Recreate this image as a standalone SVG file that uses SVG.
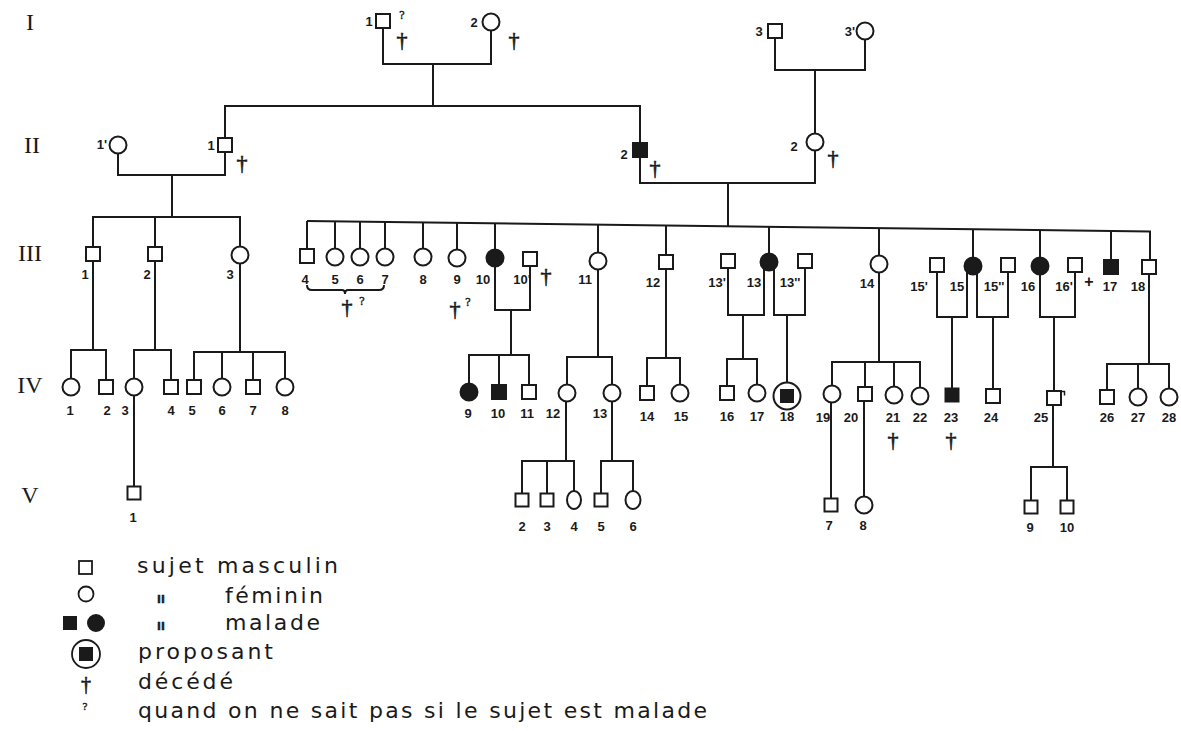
<svg xmlns="http://www.w3.org/2000/svg" width="1181" height="731" viewBox="0 0 1181 731">
<style>
.c{stroke:#1a1a1a;stroke-width:2;fill:none}
.s{fill:#fff;stroke:#1a1a1a;stroke-width:2}
.f{fill:#1a1a1a;stroke:#1a1a1a;stroke-width:2}
.n{font-family:"Liberation Sans",Arial,sans-serif;font-size:13px;font-weight:bold;fill:#1a1a1a;text-anchor:middle}
.g{font-family:"Liberation Serif","Times New Roman",serif;font-size:24px;fill:#1a1a1a;text-anchor:middle}
.d{font-family:"Liberation Serif","Times New Roman",serif;font-size:22px;fill:#1a1a1a;stroke:#1a1a1a;stroke-width:0.6;text-anchor:middle}
.q{font-family:"Liberation Serif","Times New Roman",serif;font-size:12px;fill:#1a1a1a;stroke:#1a1a1a;stroke-width:0.4;text-anchor:middle}
.t{font-family:"DejaVu Sans","Liberation Sans",sans-serif;font-size:22px;fill:#1a1a1a}
.o{font-family:"Liberation Sans",Arial,sans-serif;font-size:14px;font-weight:bold;fill:#1a1a1a;stroke:#1a1a1a;stroke-width:0.5}
</style>
<rect width="1181" height="731" fill="#fff"/>
<g id="generations">
<text class="g" x="30" y="30">I</text>
<text class="g" x="32" y="153">II</text>
<text class="g" x="30" y="261">III</text>
<text class="g" x="30" y="393">IV</text>
<text class="g" x="30" y="503">V</text>
</g>
<g id="connectors" class="c">
<path d="M383 28V64H491V30.5"/><path d="M433 64V106"/>
<path d="M225 138V106H640V143"/>
<path d="M775 38V70H865V39.5"/><path d="M815 70V133.5"/>
<path d="M225 152V175H118V153.5"/><path d="M172 175V217"/>
<path d="M93 247V217H240V246.5"/><path d="M155 217V247"/>
<path d="M640 157V183H815V150.5"/><path d="M728 183V226.2"/>
<path d="M93 261V350"/><path d="M71 378.5V350H106V380"/>
<path d="M155 261V350"/><path d="M134 378.5V350H171V380"/>
<path d="M240 263.5V352"/><path d="M194 380V352H285V378.5"/><path d="M222 352V378.5"/><path d="M253 352V380"/>
<path d="M134 395.5V486.5"/>
<path d="M307 221L1150 231.5V260"/>
<path d="M307 221V249"/><path d="M335 221.4V248.5"/><path d="M360 221.7V248.5"/><path d="M385 222V248.5"/>
<path d="M423 222.4V248.5"/><path d="M457 222.9V249.5"/><path d="M495 223.3V249.5"/><path d="M598 224.6V252.5"/>
<path d="M666 225.5V255"/><path d="M769 226.8V253.5"/><path d="M879 228.1V255.5"/><path d="M973 229.3V257.5"/>
<path d="M1040 230.2V257.5"/><path d="M1111 231V260"/>
<path d="M307 285q0 5 5 5h30q3 0 3 4q0 -4 3 -4h31q5 0 5 -5"/>
<path d="M495 266.5V310H530V266"/><path d="M511 310V355"/><path d="M469 383.5V355H529V385"/><path d="M499 355V385"/>
<path d="M598 269.5V357"/><path d="M567 384.5V357H612V384.5"/>
<path d="M566 401.5V461"/><path d="M522 493.5V461H574V491"/><path d="M547 461V493.5"/>
<path d="M612 401.5V461"/><path d="M601 493.5V461H633V491"/>
<path d="M666 269V358"/><path d="M647 386V358H680V384.5"/>
<path d="M728 268V315H764V269"/><path d="M743 315V359"/><path d="M727 386V359H757V384.5"/>
<path d="M774 268.5V315H805V268"/><path d="M787 315V382.5"/>
<path d="M879 272.5V362"/><path d="M832 385.5V362H920V387.5"/><path d="M865 362V387"/><path d="M894 362V386.5"/>
<path d="M831 402.5V498.5"/><path d="M864 401V496.5"/>
<path d="M937 272V317H967V272"/><path d="M952 317V388.5"/>
<path d="M977 272.5V317H1008V272"/><path d="M993 317V389"/>
<path d="M1040 274.5V317H1075V272"/><path d="M1054 317V391"/>
<path d="M1053 405V467"/><path d="M1031 500.5V467H1067V500.5"/>
<path d="M1149 274V364"/><path d="M1107 390V364H1169V388.5"/><path d="M1138 364V388.5"/>
</g>
<g id="I-1"><rect class="s" x="376" y="14" width="14" height="14"/><text class="n" x="369" y="26">1</text><text class="q" x="402" y="19">?</text><text class="d" x="402" y="47">†</text></g>
<g id="I-2"><circle class="s" cx="491" cy="22" r="8.5"/><text class="n" x="474" y="27">2</text><text class="d" x="514" y="47">†</text></g>
<g id="I-3"><rect class="s" x="768" y="24" width="14" height="14"/><text class="n" x="759" y="36">3</text></g>
<g id="I-3p"><circle class="s" cx="865" cy="31" r="8.5"/><text class="n" x="850" y="36">3'</text></g>
<g id="II-1p"><circle class="s" cx="118" cy="145" r="8.5"/><text class="n" x="102" y="149">1'</text></g>
<g id="II-1"><rect class="s" x="218" y="138" width="14" height="14"/><text class="n" x="211" y="150">1</text><text class="d" x="242" y="170">†</text></g>
<g id="II-2m"><rect class="f" x="633" y="143" width="14" height="14"/><text class="n" x="624" y="159">2</text><text class="d" x="655" y="175">†</text></g>
<g id="II-2f"><circle class="s" cx="815" cy="142" r="8.5"/><text class="n" x="794" y="151">2</text><text class="d" x="833" y="165">†</text></g>
<g id="III-1"><rect class="s" x="86" y="247" width="14" height="14"/><text class="n" x="85" y="279">1</text></g>
<g id="III-2"><rect class="s" x="148" y="247" width="14" height="14"/><text class="n" x="147" y="279">2</text></g>
<g id="III-3"><circle class="s" cx="240" cy="255" r="8.5"/><text class="n" x="230" y="279">3</text></g>
<g id="III-4"><rect class="s" x="300" y="249" width="14" height="14"/><text class="n" x="305" y="284">4</text></g>
<g id="III-5"><circle class="s" cx="335" cy="257" r="8.5"/><text class="n" x="335" y="284">5</text></g>
<g id="III-6"><circle class="s" cx="360" cy="257" r="8.5"/><text class="n" x="360" y="284">6</text></g>
<g id="III-7"><circle class="s" cx="385" cy="257" r="8.5"/><text class="n" x="385" y="284">7</text></g>
<g id="III-4-7-note"><text class="d" x="347" y="314">†</text><text class="q" x="362" y="305">?</text></g>
<g id="III-8"><circle class="s" cx="423" cy="257" r="8.5"/><text class="n" x="423" y="284">8</text></g>
<g id="III-9"><circle class="s" cx="457" cy="258" r="8.5"/><text class="n" x="457" y="284">9</text><text class="d" x="455" y="316">†</text><text class="q" x="468" y="306">?</text></g>
<g id="III-10"><circle class="f" cx="495" cy="258" r="8.5"/><text class="n" x="483" y="284">10</text></g>
<g id="III-10p"><rect class="s" x="523" y="252" width="14" height="14"/><text class="n" x="522" y="284">10'</text><text class="d" x="546" y="283">†</text></g>
<g id="III-11"><circle class="s" cx="598" cy="261" r="8.5"/><text class="n" x="585" y="284">11</text></g>
<g id="III-12"><rect class="s" x="659" y="255" width="14" height="14"/><text class="n" x="653" y="287">12</text></g>
<g id="III-13p"><rect class="s" x="721" y="254" width="14" height="14"/><text class="n" x="717" y="287">13'</text></g>
<g id="III-13"><circle class="f" cx="769" cy="262" r="8.5"/><text class="n" x="754" y="287">13</text></g>
<g id="III-13pp"><rect class="s" x="798" y="254" width="14" height="14"/><text class="n" x="790" y="287">13''</text></g>
<g id="III-14"><circle class="s" cx="879" cy="264" r="8.5"/><text class="n" x="867" y="288">14</text></g>
<g id="III-15p"><rect class="s" x="930" y="258" width="14" height="14"/><text class="n" x="919" y="291">15'</text></g>
<g id="III-15"><circle class="f" cx="973" cy="266" r="8.5"/><text class="n" x="957" y="291">15</text></g>
<g id="III-15pp"><rect class="s" x="1001" y="258" width="14" height="14"/><text class="n" x="994" y="291">15''</text></g>
<g id="III-16"><circle class="f" cx="1040" cy="266" r="8.5"/><text class="n" x="1028" y="291">16</text></g>
<g id="III-16p"><rect class="s" x="1068" y="258" width="14" height="14"/><text class="n" x="1064" y="291">16'</text><text class="n" x="1089" y="287" style="font-size:16px">+</text></g>
<g id="III-17"><rect class="f" x="1104" y="260" width="14" height="14"/><text class="n" x="1110" y="291">17</text></g>
<g id="III-18"><rect class="s" x="1142" y="260" width="14" height="14"/><text class="n" x="1138" y="291">18</text></g>
<g id="IV-1"><circle class="s" cx="71" cy="387" r="8.5"/><text class="n" x="70" y="415">1</text></g>
<g id="IV-2"><rect class="s" x="99" y="380" width="14" height="14"/><text class="n" x="107" y="415">2</text></g>
<g id="IV-3"><circle class="s" cx="134" cy="387" r="8.5"/><text class="n" x="125" y="415">3</text></g>
<g id="IV-4"><rect class="s" x="164" y="380" width="14" height="14"/><text class="n" x="171" y="415">4</text></g>
<g id="IV-5"><rect class="s" x="187" y="380" width="14" height="14"/><text class="n" x="192" y="415">5</text></g>
<g id="IV-6"><circle class="s" cx="222" cy="387" r="8.5"/><text class="n" x="222" y="415">6</text></g>
<g id="IV-7"><rect class="s" x="246" y="380" width="14" height="14"/><text class="n" x="253" y="415">7</text></g>
<g id="IV-8"><circle class="s" cx="285" cy="387" r="8.5"/><text class="n" x="285" y="415">8</text></g>
<g id="IV-9"><circle class="f" cx="469" cy="392" r="8.5"/><text class="n" x="468" y="418">9</text></g>
<g id="IV-10"><rect class="f" x="492" y="385" width="14" height="14"/><text class="n" x="498" y="418">10</text></g>
<g id="IV-11"><rect class="s" x="522" y="385" width="14" height="14"/><text class="n" x="527" y="418">11</text></g>
<g id="IV-12"><circle class="s" cx="567" cy="393" r="8.5"/><text class="n" x="553" y="418">12</text></g>
<g id="IV-13"><circle class="s" cx="612" cy="393" r="8.5"/><text class="n" x="600" y="418">13</text></g>
<g id="IV-14"><rect class="s" x="640" y="386" width="14" height="14"/><text class="n" x="647" y="421">14</text></g>
<g id="IV-15"><circle class="s" cx="680" cy="393" r="8.5"/><text class="n" x="681" y="421">15</text></g>
<g id="IV-16"><rect class="s" x="720" y="386" width="14" height="14"/><text class="n" x="727" y="421">16</text></g>
<g id="IV-17"><circle class="s" cx="757" cy="393" r="8.5"/><text class="n" x="757" y="421">17</text></g>
<g id="IV-18"><circle class="s" cx="787" cy="396" r="13.5"/><rect class="f" x="781" y="390" width="12" height="12"/><text class="n" x="787" y="421">18</text></g>
<g id="IV-19"><circle class="s" cx="832" cy="394" r="8.5"/><text class="n" x="823" y="422">19</text></g>
<g id="IV-20"><rect class="s" x="858" y="387" width="14" height="14"/><text class="n" x="851" y="422">20</text></g>
<g id="IV-21"><circle class="s" cx="894" cy="395" r="8.5"/><text class="n" x="893" y="422">21</text><text class="d" x="893" y="447">†</text></g>
<g id="IV-22"><circle class="s" cx="920" cy="396" r="8.5"/><text class="n" x="920" y="422">22</text></g>
<g id="IV-23"><rect class="f" x="945.5" y="388.5" width="13" height="13"/><text class="n" x="951" y="422">23</text><text class="d" x="951" y="447">†</text></g>
<g id="IV-24"><rect class="s" x="986" y="389" width="14" height="14"/><text class="n" x="991" y="422">24</text></g>
<g id="IV-25"><rect class="s" x="1047" y="391" width="14" height="14"/><path class="c" style="stroke-width:1.5" d="M1061 391.5h3.5v4"/><text class="n" x="1041" y="422">25</text></g>
<g id="IV-26"><rect class="s" x="1100" y="390" width="14" height="14"/><text class="n" x="1107" y="422">26</text></g>
<g id="IV-27"><circle class="s" cx="1138" cy="397" r="8.5"/><text class="n" x="1138" y="422">27</text></g>
<g id="IV-28"><circle class="s" cx="1169" cy="397" r="8.5"/><text class="n" x="1169" y="422">28</text></g>
<g id="V-1"><rect class="s" x="127.5" y="486.5" width="13" height="13"/><text class="n" x="133" y="522">1</text></g>
<g id="V-2"><rect class="s" x="515.5" y="493.5" width="13" height="13"/><text class="n" x="522" y="531">2</text></g>
<g id="V-3"><rect class="s" x="540.5" y="493.5" width="13" height="13"/><text class="n" x="547" y="531">3</text></g>
<g id="V-4"><ellipse class="s" cx="574" cy="500" rx="7" ry="9"/><text class="n" x="574" y="531">4</text></g>
<g id="V-5"><rect class="s" x="594.5" y="493.5" width="13" height="13"/><text class="n" x="601" y="531">5</text></g>
<g id="V-6"><ellipse class="s" cx="633" cy="500" rx="7.5" ry="9"/><text class="n" x="633" y="531">6</text></g>
<g id="V-7"><rect class="s" x="824.5" y="498.5" width="13" height="13"/><text class="n" x="829" y="530">7</text></g>
<g id="V-8"><circle class="s" cx="864" cy="505" r="8.5"/><text class="n" x="863" y="530">8</text></g>
<g id="V-9"><rect class="s" x="1024.5" y="500.5" width="13" height="13"/><text class="n" x="1030" y="532">9</text></g>
<g id="V-10"><rect class="s" x="1060.5" y="500.5" width="13" height="13"/><text class="n" x="1067" y="532">10</text></g>
<g id="legend">
<rect class="s" x="79" y="561" width="13" height="13" style="stroke-width:1.8"/>
<text class="t" x="137" y="573" textLength="201" lengthAdjust="spacing">sujet masculin</text>
<circle class="s" cx="86" cy="594" r="7.5" style="stroke-width:1.8"/>
<text class="o" x="157" y="603">ıı</text>
<text class="t" x="225" y="603" textLength="98" lengthAdjust="spacing">féminin</text>
<rect class="f" x="64" y="617" width="12" height="12"/>
<circle class="f" cx="96" cy="623" r="8"/>
<text class="o" x="157" y="630">ıı</text>
<text class="t" x="225" y="630" textLength="95" lengthAdjust="spacing">malade</text>
<circle class="s" cx="86" cy="654" r="14" style="stroke-width:1.8"/>
<rect class="f" x="80" y="648" width="12" height="12"/>
<text class="t" x="138" y="659" textLength="135" lengthAdjust="spacing">proposant</text>
<text class="d" x="86" y="691" style="font-size:20px">†</text>
<text class="t" x="138" y="689" textLength="95" lengthAdjust="spacing">décédé</text>
<text class="q" x="85" y="710" style="font-size:11px">?</text>
<text class="t" x="138" y="718" textLength="569" lengthAdjust="spacing">quand on ne sait pas si le sujet est malade</text>
</g>
</svg>
